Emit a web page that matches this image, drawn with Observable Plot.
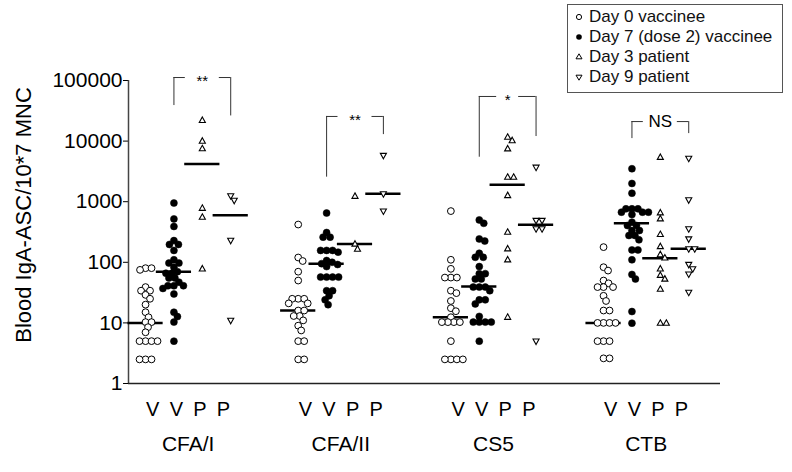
<!DOCTYPE html>
<html><head><meta charset="utf-8">
<script src="https://cdn.jsdelivr.net/npm/d3@7"></script>
<script src="https://cdn.jsdelivr.net/npm/@observablehq/plot@0.6"></script>
<style>
body{margin:0;background:#fff;}
#wrap{position:relative;width:792px;height:472px;font-family:"Liberation Sans",Arial,sans-serif;}
#legend{position:absolute;left:567px;top:4px;width:216px;height:89px;border:1px solid #555;box-sizing:border-box;background:#fff;}
.row{position:absolute;left:6px;height:18px;line-height:18px;display:flex;align-items:center;font-size:17px;color:#111;white-space:nowrap;}
.row svg{width:10px;height:10px;margin-right:5px;overflow:visible;}
</style></head><body><div id="wrap"><div id="chart"></div><div id="legend"></div></div>
<script>
// ---- data ----
const groups = ["CFA/I", "CFA/II", "CS5", "CTB"];
const seriesNames = ["Day 0 vaccinee", "Day 7 (dose 2) vaccinee", "Day 3 patient", "Day 9 patient"];
const seriesLetters = ["V", "V", "P", "P"];
const yTicks = [1, 10, 100, 1000, 10000, 100000];

const cfa1Day0 = [80, 80, 75, 39, 34, 34, 29, 25, 20, 15, 12.4, 10.3, 10.3, 8.5, 7, 5, 5, 5, 5, 2.5, 2.5, 2.5];
const cfa1Day7 = [950, 520, 390, 228, 197, 197, 157, 110, 97, 97, 83, 70, 66, 66, 55, 55, 47, 41, 41, 41, 37, 30, 15, 12.7, 10.3, 5];
const cfa1Day3 = [22000, 10000, 7500, 780, 555, 78];
const cfa1Day9 = [1250, 1050, 230, 11];
const cfa1Medians = [10, 70, 4200, 600];

const cfa2Day0 = [420, 120, 105, 70, 50, 25, 25, 25, 21, 21, 16, 16, 13, 13, 11, 9, 7.5, 5, 5, 2.5, 2.5];
const cfa2Day7 = [650, 310, 260, 260, 157, 157, 157, 147, 107, 100, 95, 92, 85, 57, 57, 57, 57, 34, 34, 28, 24, 20];
const cfa2Day3 = [1230, 200, 165];
const cfa2Day9 = [5800, 1350, 700];
const cfa2Medians = [16, 95, 200, 1350];

const cs5Day0 = [700, 110, 78, 56, 56, 56, 34, 31, 23, 17.5, 15.6, 12.4, 10.3, 10.3, 10.3, 10.3, 5, 2.5, 2.5, 2.5, 2.5];
const cs5Day7 = [500, 440, 243, 224, 141, 121, 121, 85, 65, 65, 53, 53, 39, 39, 39, 34, 24, 24, 20.6, 12.8, 10.3, 10.3, 10.3, 10.3, 5];
const cs5Day3 = [11600, 10200, 7460, 2540, 2540, 1265, 314, 167, 110, 12.4];
const cs5Day9 = [3700, 490, 490, 357, 357, 5];
const cs5Medians = [12.4, 40, 1900, 416];

const ctbDay0 = [178, 83, 73, 50, 45, 39, 39, 39, 28, 23, 16, 16, 10, 10, 10, 10, 5, 5, 5, 2.6, 2.6];
const ctbDay7 = [3500, 2000, 1380, 763, 763, 763, 672, 672, 672, 615, 460, 405, 405, 335, 335, 277, 277, 235, 160, 160, 110, 63, 53, 15.4, 9.9];
const ctbDay3 = [5400, 656, 522, 288, 182, 134, 118, 78, 61, 53, 36, 9.9, 9.9];
const ctbDay9 = [5200, 1070, 357, 243, 167, 167, 92, 78, 64, 32];
const ctbMedians = [10, 440, 117, 167];

// significance brackets (day 7 vaccinee vs day 9 patient), in data units
const bracketLabels = ["**", "**", "*", "NS"];
const bracketTop = [112000, 25500, 54500, 21000];
const bracketLeftEnd = [38600, 2540, 5420, 11000];
const bracketRightEnd = [26000, 12800, 11900, 13300];

// ---- build tables ----
const table = [
  [cfa1Day0, cfa1Day7, cfa1Day3, cfa1Day9],
  [cfa2Day0, cfa2Day7, cfa2Day3, cfa2Day9],
  [cs5Day0, cs5Day7, cs5Day3, cs5Day9],
  [ctbDay0, ctbDay7, ctbDay3, ctbDay9]
];
const medianTable = [cfa1Medians, cfa2Medians, cs5Medians, ctbMedians];

const W = 792, H = 472, mL = 128, mR = 72, mT = 80, mB = 89;
const pitch = 5.377;              // group spacing in column units
const xDomain = [-0.6, 20.25];
const colPx = (W - mL - mR) / (xDomain[1] - xDomain[0]);
const yPx = d3.scaleLog().domain([1, 1e5]).range([H - mB, mT]);
const colX = (g, s) => g * pitch + s;

// deterministic beeswarm spreading of overlapping points
function swarm(values, cx, g, s) {
  const pts = values.map(v => ({v, py: yPx(v)})).sort((a, b) => a.py - b.py);
  const placed = [];
  const minD = 5.6;
  for (const p of pts) {
    let off = 0;
    for (let k = 0; k < 400; k++) {
      const o = k === 0 ? 0 : (k % 2 ? 1 : -1) * Math.ceil(k / 2) * 0.5;
      if (placed.every(q => Math.hypot(q.ox - o, q.py - p.py) >= minD)) { off = o; break; }
    }
    placed.push({ox: off, py: p.py, v: p.v});
  }
  return placed.map(q => ({v: q.v, x: cx + q.ox / colPx, g, s}));
}

const points = [];
table.forEach((row, g) => row.forEach((vals, s) => points.push(...swarm(vals, colX(g, s), g, s))));
const medians = [];
medianTable.forEach((row, g) => row.forEach((v, s) => medians.push({x: colX(g, s), v})));

const legs = [], tops = [], blabels = [];
groups.forEach((name, g) => {
  const gap = (5 + 6 * bracketLabels[g].length) / colPx;
  legs.push({x: colX(g, 1), y1: bracketLeftEnd[g], y2: bracketTop[g]});
  legs.push({x: colX(g, 3), y1: bracketRightEnd[g], y2: bracketTop[g]});
  tops.push({x1: colX(g, 1), x2: colX(g, 2) - gap, y: bracketTop[g]});
  tops.push({x1: colX(g, 2) + gap, x2: colX(g, 3), y: bracketTop[g]});
  blabels.push({x: colX(g, 2), y: bracketTop[g], text: bracketLabels[g]});
});

const letterTicks = [];
groups.forEach((name, g) => seriesLetters.forEach((L, s) => letterTicks.push({x: colX(g, 1.5) + (s - 1.5) * 0.83, text: L})));
const groupTicks = groups.map((name, g) => ({x: colX(g, 1.5), text: name}));

const triUp = {draw(ctx, size) { const s = Math.sqrt(size); ctx.moveTo(0, -0.58 * s); ctx.lineTo(0.52 * s, 0.36 * s); ctx.lineTo(-0.52 * s, 0.36 * s); ctx.closePath(); }};
const triDown = {draw(ctx, size) { const s = Math.sqrt(size); ctx.moveTo(0, 0.58 * s); ctx.lineTo(0.52 * s, -0.36 * s); ctx.lineTo(-0.52 * s, -0.36 * s); ctx.closePath(); }};

const bySeries = s => points.filter(d => d.s === s);
const font = "Liberation Sans, Arial, sans-serif";

const chart = Plot.plot({
  width: W, height: H,
  marginLeft: mL, marginRight: mR, marginTop: mT, marginBottom: mB,
  style: {fontFamily: font, fontSize: "21px", color: "#000", background: "#fff"},
  x: {type: "linear", domain: xDomain, axis: null},
  y: {type: "log", domain: [1, 1e5], ticks: yTicks, tickFormat: d => String(d), tickSize: 5, tickPadding: 1, label: null},
  marks: [
    Plot.ruleX([xDomain[0]], {stroke: "#444", strokeWidth: 1.5}),
    Plot.ruleY([1], {stroke: "#222", strokeWidth: 1.5}),
    Plot.ruleX(legs, {x: "x", y1: "y1", y2: "y2", stroke: "#333", strokeWidth: 1}),
    Plot.ruleY(tops, {x1: "x1", x2: "x2", y: "y", stroke: "#333", strokeWidth: 1}),
    Plot.text(blabels.filter(d => d.text !== "NS"), {x: "x", y: "y", text: "text", fontSize: 15, dy: 4, fill: "#000"}),
    Plot.text(blabels.filter(d => d.text === "NS"), {x: "x", y: "y", text: "text", fontSize: 17, dy: 0, fill: "#000"}),
    Plot.ruleY(medians, {y: "v", x1: d => d.x - 0.62, x2: d => d.x + 0.62, stroke: "#000", strokeWidth: 2.5}),
    Plot.dot(bySeries(0), {x: "x", y: "v", r: 3.4, fill: "#fff", stroke: "#000", strokeWidth: 1}),
    Plot.dot(bySeries(1), {x: "x", y: "v", r: 3.5, fill: "#000", stroke: "#000", strokeWidth: 0.5}),
    Plot.dot(bySeries(2), {x: "x", y: "v", r: 3.3, symbol: triUp, fill: "#fff", stroke: "#000", strokeWidth: 1.1}),
    Plot.dot(bySeries(3), {x: "x", y: "v", r: 3.3, symbol: triDown, fill: "#fff", stroke: "#000", strokeWidth: 1.1}),
    Plot.text(letterTicks, {x: "x", text: "text", frameAnchor: "bottom", dy: 32, fontSize: 20, fill: "#000"}),
    Plot.text(groupTicks, {x: "x", text: "text", frameAnchor: "bottom", dy: 67, fontSize: 21, fill: "#000"}),
    Plot.text(["Blood IgA-ASC/10*7 MNC"], {frameAnchor: "left", textAnchor: "middle", rotate: -90, dx: -105, dy: -17, fontSize: 22, fill: "#000"})
  ]
});
document.getElementById("chart").appendChild(chart);

// legend
const legend = document.getElementById("legend");
const icons = [
  '<circle cx="5" cy="5" r="2.6" fill="#fff" stroke="#000" stroke-width="1"/>',
  '<circle cx="5" cy="5" r="2.8" fill="#000"/>',
  '<path d="M5,1.8 L8,6.8 L2,6.8 Z" fill="#fff" stroke="#000" stroke-width="1"/>',
  '<path d="M5,8.2 L8,3.2 L2,3.2 Z" fill="#fff" stroke="#000" stroke-width="1"/>'
];
const rowTops = [3, 23, 43, 63];
seriesNames.forEach((name, i) => {
  const r = document.createElement("div");
  r.className = "row";
  r.style.top = rowTops[i] + "px";
  r.innerHTML = '<svg viewBox="0 0 10 10">' + icons[i] + '</svg><span>' + name + '</span>';
  legend.appendChild(r);
});
</script></body></html>
